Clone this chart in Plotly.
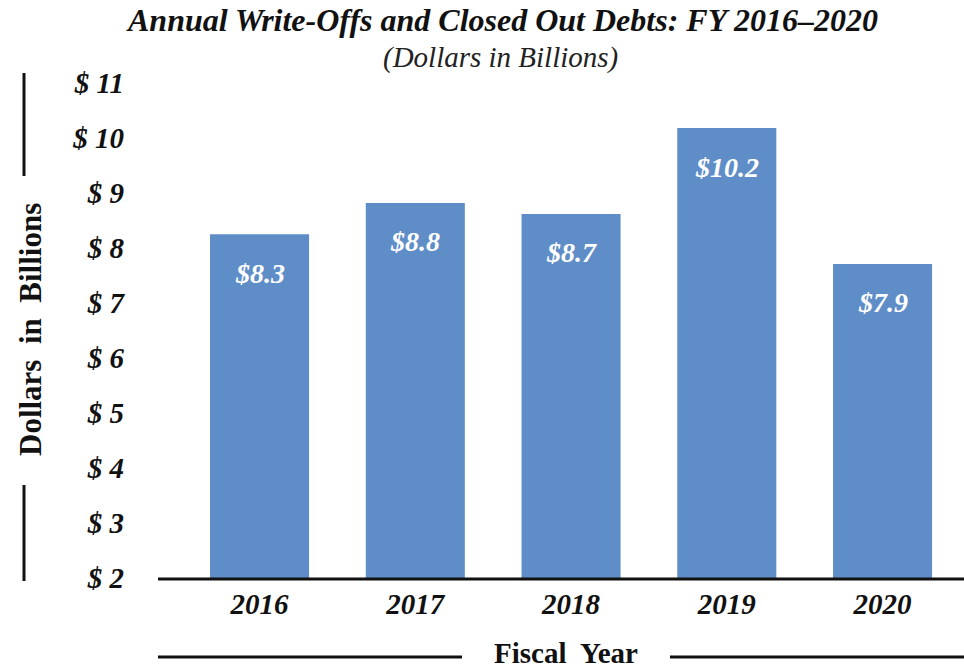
import plotly.graph_objects as go

# values
years = ["2016", "2017", "2018", "2019", "2020"]
bar_heights = [8.25, 8.82, 8.62, 10.18, 7.71]
bar_labels = ["$8.3", "$8.8", "$8.7", "$10.2", "$7.9"]
y_ticks = [2, 3, 4, 5, 6, 7, 8, 9, 10, 11]
y_tick_text = ["$ 2", "$ 3", "$ 4", "$ 5", "$ 6", "$ 7", "$ 8", "$ 9", "$ 10", "$ 11"]

W, H = 964, 669
L, R, T, B = 158, 0, 83, 91
SERIF = "Liberation Serif, Times New Roman, serif"
BAR_BLUE = "#5F8DC8"


def px_x(x):
    # pixel -> paper x
    return (x - L) / (W - L - R)


def px_y(y):
    # pixel -> paper y
    return (H - B - y) / (H - T - B)


fig = go.Figure()
fig.add_trace(go.Bar(
    x=years,
    y=bar_heights,
    base=0,
    marker=dict(color=BAR_BLUE, line=dict(width=0)),
    width=0.636,
    hoverinfo="skip",
))

annotations = []
for i, (h, lab) in enumerate(zip(bar_heights, bar_labels)):
    annotations.append(dict(
        x=i, y=h, xref="x", yref="y", text=lab, showarrow=False,
        yanchor="middle", yshift=-39,
        font=dict(family=SERIF, size=28, color="white", weight="bold", style="italic"),
    ))

# title + subtitle
annotations.append(dict(
    x=px_x(502), y=px_y(20), xref="paper", yref="paper", showarrow=False,
    text="Annual Write-Offs and Closed Out Debts: FY 2016\u20132020",
    xanchor="center", yanchor="middle",
    font=dict(family=SERIF, size=32, color="#111", weight="bold", style="italic"),
))
annotations.append(dict(
    x=px_x(500), y=px_y(58), xref="paper", yref="paper", showarrow=False,
    text="(Dollars in Billions)", xanchor="center", yanchor="middle",
    font=dict(family=SERIF, size=29, color="#222", style="italic"),
))
# axis titles
annotations.append(dict(
    x=px_x(30), y=px_y(330), xref="paper", yref="paper", showarrow=False,
    text="Dollars&nbsp; in&nbsp; Billions", textangle=-90,
    xanchor="center", yanchor="middle",
    font=dict(family=SERIF, size=31, color="#111", weight="bold"),
))
annotations.append(dict(
    x=px_x(566), y=px_y(653), xref="paper", yref="paper", showarrow=False,
    text="Fiscal&nbsp; Year", xanchor="center", yanchor="middle",
    font=dict(family=SERIF, size=29, color="#111", weight="bold"),
))

line_style = dict(color="#111", width=3)
shapes = [
    dict(type="line", xref="paper", yref="paper", x0=px_x(24), x1=px_x(24),
         y0=px_y(73), y1=px_y(176), line=line_style),
    dict(type="line", xref="paper", yref="paper", x0=px_x(24), x1=px_x(24),
         y0=px_y(485), y1=px_y(581), line=line_style),
    dict(type="line", xref="paper", yref="paper", x0=px_x(158), x1=px_x(462),
         y0=px_y(657), y1=px_y(657), line=line_style),
    dict(type="line", xref="paper", yref="paper", x0=px_x(670), x1=px_x(964),
         y0=px_y(657), y1=px_y(657), line=line_style),
    dict(type="line", xref="paper", yref="paper", x0=0, x1=1,
         y0=px_y(579), y1=px_y(579), line=line_style),
]

fig.update_layout(
    width=W, height=H,
    margin=dict(l=L, r=R, t=T, b=B),
    paper_bgcolor="white", plot_bgcolor="white",
    showlegend=False,
    annotations=annotations,
    shapes=shapes,
    xaxis=dict(
        type="category", range=[-0.652, 4.523],
        showline=False, showgrid=False, zeroline=False,
        ticks="", ticklabelstandoff=6,
        tickfont=dict(family=SERIF, size=29, color="#111", weight="bold", style="italic"),
    ),
    yaxis=dict(
        range=[2, 11], tickvals=y_ticks, ticktext=y_tick_text,
        showline=False, showgrid=False, zeroline=False,
        ticks="", ticklabelstandoff=33,
        tickfont=dict(family=SERIF, size=29, color="#111", weight="bold", style="italic"),
    ),
)

# the page body has a default margin; drop it so the figure sits at the corner
fig.write_html("out.html", config={"displayModeBar": False},
               post_script="document.body.style.margin='0';")
